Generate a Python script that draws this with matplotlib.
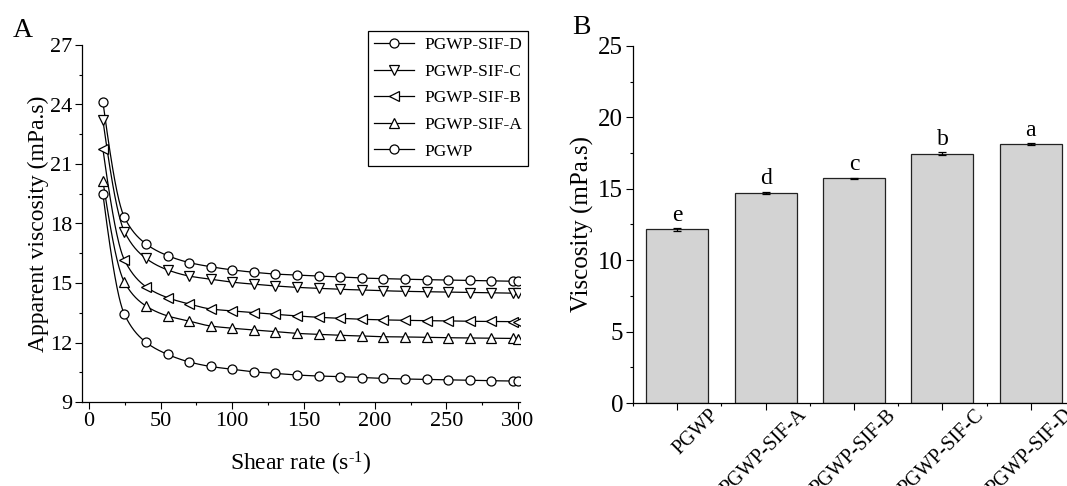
import numpy as np
import matplotlib

matplotlib.use("Agg")
import matplotlib.pyplot as plt
from matplotlib.lines import Line2D
from matplotlib.ticker import MultipleLocator, FixedLocator
from matplotlib.transforms import ScaledTranslation

plt.rcParams["font.family"] = ["Liberation Serif", "DejaVu Serif"]
plt.rcParams["mathtext.fontset"] = "custom"
plt.rcParams["mathtext.rm"] = "Liberation Serif"
plt.rcParams["mathtext.it"] = "Liberation Serif:italic"

# ---- panel A: apparent viscosity vs shear rate ----
shear = [9.6, 24.7, 39.8, 54.9, 70.0, 85.1, 100.2, 115.3, 130.4, 145.5, 160.6,
         175.7, 190.8, 205.9, 221.0, 236.1, 251.2, 266.3, 281.4, 296.5, 300.0]
visc_pgwp = [19.50, 13.42, 12.01, 11.40, 11.02, 10.79, 10.65, 10.52, 10.44, 10.36, 10.31,
             10.28, 10.23, 10.19, 10.16, 10.14, 10.11, 10.09, 10.07, 10.06, 10.05]
visc_a = [20.16, 15.04, 13.84, 13.34, 13.08, 12.83, 12.72, 12.63, 12.55, 12.46, 12.41,
          12.36, 12.33, 12.29, 12.28, 12.26, 12.24, 12.23, 12.22, 12.21, 12.20]
visc_b = [21.76, 16.16, 14.81, 14.26, 13.94, 13.69, 13.59, 13.50, 13.42, 13.34, 13.27,
          13.22, 13.17, 13.14, 13.12, 13.10, 13.09, 13.07, 13.06, 13.05, 13.05]
visc_c = [23.22, 17.59, 16.24, 15.66, 15.35, 15.19, 15.04, 14.94, 14.85, 14.78, 14.73,
          14.68, 14.65, 14.61, 14.58, 14.56, 14.54, 14.52, 14.50, 14.49, 14.48]
visc_d = [24.15, 18.31, 16.97, 16.38, 16.03, 15.82, 15.66, 15.54, 15.45, 15.40, 15.35,
          15.30, 15.25, 15.22, 15.19, 15.17, 15.15, 15.13, 15.11, 15.09, 15.08]

# ---- panel B: viscosity bars ----
samples = ["PGWP", "PGWP-SIF-A", "PGWP-SIF-B", "PGWP-SIF-C", "PGWP-SIF-D"]
viscosity = [12.15, 14.72, 15.73, 17.47, 18.11]
viscosity_err = [0.08, 0.09, 0.06, 0.10, 0.07]
letters = ["e", "d", "c", "b", "a"]

W, H = 1067, 486


def pchip(x, y, xs):
    """Monotone cubic through the points (used only to draw the connecting line)."""
    x = np.asarray(x, float)
    y = np.asarray(y, float)
    h = np.diff(x)
    d = np.diff(y) / h
    n = len(x)
    m = np.zeros(n)
    for k in range(1, n - 1):
        if d[k - 1] * d[k] > 0:
            w1 = 2 * h[k] + h[k - 1]
            w2 = h[k] + 2 * h[k - 1]
            m[k] = (w1 + w2) / (w1 / d[k - 1] + w2 / d[k])

    def end(h0, h1, d0, d1):
        s = ((2 * h0 + h1) * d0 - h0 * d1) / (h0 + h1)
        if np.sign(s) != np.sign(d0):
            return 0.0
        if np.sign(d0) != np.sign(d1) and abs(s) > 3 * abs(d0):
            return 3 * d0
        return s

    m[0] = end(h[0], h[1], d[0], d[1])
    m[-1] = end(h[-1], h[-2], d[-1], d[-2])
    idx = np.clip(np.searchsorted(x, xs) - 1, 0, n - 2)
    t = (xs - x[idx]) / h[idx]
    h00 = 2 * t**3 - 3 * t**2 + 1
    h10 = t**3 - 2 * t**2 + t
    h01 = -2 * t**3 + 3 * t**2
    h11 = t**3 - t**2
    return h00 * y[idx] + h10 * h[idx] * m[idx] + h01 * y[idx + 1] + h11 * h[idx] * m[idx + 1]


fig = plt.figure(figsize=(W / 100, H / 100), dpi=100)
axA = fig.add_axes([82 / W, 1 - 402 / H, 438 / W, 357 / H])
axB = fig.add_axes([633 / W, 1 - 403 / H, 442 / W, 357 / H])

lw = 0.9
series = [
    ("PGWP-SIF-D", visc_d, "o"),
    ("PGWP-SIF-C", visc_c, "v"),
    ("PGWP-SIF-B", visc_b, "<"),
    ("PGWP-SIF-A", visc_a, "^"),
    ("PGWP", visc_pgwp, "o"),
]
xs = np.linspace(shear[0], shear[-1], 800)
handles = []
for name, vals, mk in series:
    axA.plot(xs, pchip(shear, vals, xs), color="black", lw=lw, zorder=2)
    axA.plot(shear, vals, ls="none", marker=mk, ms=6.5, mfc="white", mec="black",
             mew=0.9, zorder=3)
    handles.append(Line2D([], [], color="black", lw=lw, marker=mk, ms=6.5,
                          mfc="white", mec="black", mew=0.9, label=name))

axA.set_xlim(-5, 301.5)
axA.set_ylim(9, 27)
axA.xaxis.set_major_locator(MultipleLocator(50))
axA.xaxis.set_minor_locator(MultipleLocator(25))
axA.yaxis.set_major_locator(MultipleLocator(3))
axA.yaxis.set_minor_locator(MultipleLocator(1.5))
axA.spines[["top", "right"]].set_visible(False)
axA.set_xlabel(r"Shear rate (s$^{\text{-1}}$)", fontsize=17, labelpad=14)
axA.set_ylabel("Apparent viscosity (mPa.s)", fontsize=17, labelpad=1)
axA.tick_params(axis="both", which="major", labelsize=16, length=5, width=0.8, pad=2)
axA.tick_params(axis="both", which="minor", length=2.5, width=0.8)

leg = fig.legend(handles=handles, loc="upper left",
                 bbox_to_anchor=(368 / W, 1 - 31 / H), fontsize=12.5,
                 frameon=True, fancybox=False, edgecolor="black", framealpha=1,
                 handlelength=2.3, handletextpad=0.6, labelspacing=0.6,
                 borderpad=0.35, borderaxespad=0, numpoints=1)
leg.get_frame().set_linewidth(0.9)

pos = np.arange(1, len(samples) + 1)
axB.bar(pos, viscosity, width=0.7, color="#d3d3d3", edgecolor="#222222", linewidth=0.9,
        yerr=viscosity_err, capsize=3,
        error_kw=dict(elinewidth=0.9, capthick=0.9, ecolor="black"))
for p, v, e, lt in zip(pos, viscosity, viscosity_err, letters):
    axB.annotate(lt, (p, v + e), xytext=(0, 1.5), textcoords="offset points",
                 ha="center", va="bottom", fontsize=17)

axB.set_xlim(0.5, 5.5)
axB.set_ylim(0, 25)
axB.xaxis.set_major_locator(FixedLocator(pos))
axB.xaxis.set_minor_locator(FixedLocator(np.arange(0.5, 6.0, 1.0)))
axB.set_xticklabels(samples)
axB.yaxis.set_major_locator(MultipleLocator(5))
axB.yaxis.set_minor_locator(MultipleLocator(2.5))
axB.spines[["top", "right"]].set_visible(False)
axB.set_ylabel("Viscosity (mPa.s)", fontsize=18, labelpad=3)
axB.tick_params(axis="y", which="major", labelsize=18, length=5, width=0.8, pad=2)
axB.tick_params(axis="x", which="major", labelsize=14.5, length=5, width=0.8, pad=2)
axB.tick_params(axis="both", which="minor", length=2.5, width=0.8)
shift = ScaledTranslation(32 / 100, 7 / 100, fig.dpi_scale_trans)
for lbl in axB.get_xticklabels():
    lbl.set_rotation(45)
    lbl.set_ha("right")
    lbl.set_va("top")
    lbl.set_rotation_mode("anchor")
    lbl.set_transform(lbl.get_transform() + shift)

for ax in (axA, axB):
    for s in ax.spines.values():
        s.set_linewidth(0.9)

fig.text(13 / W, 1 - 37 / H, "A", fontsize=20, va="baseline")
fig.text(572 / W, 1 - 34 / H, "B", fontsize=20, va="baseline")

fig.savefig("out.png", dpi=100)
